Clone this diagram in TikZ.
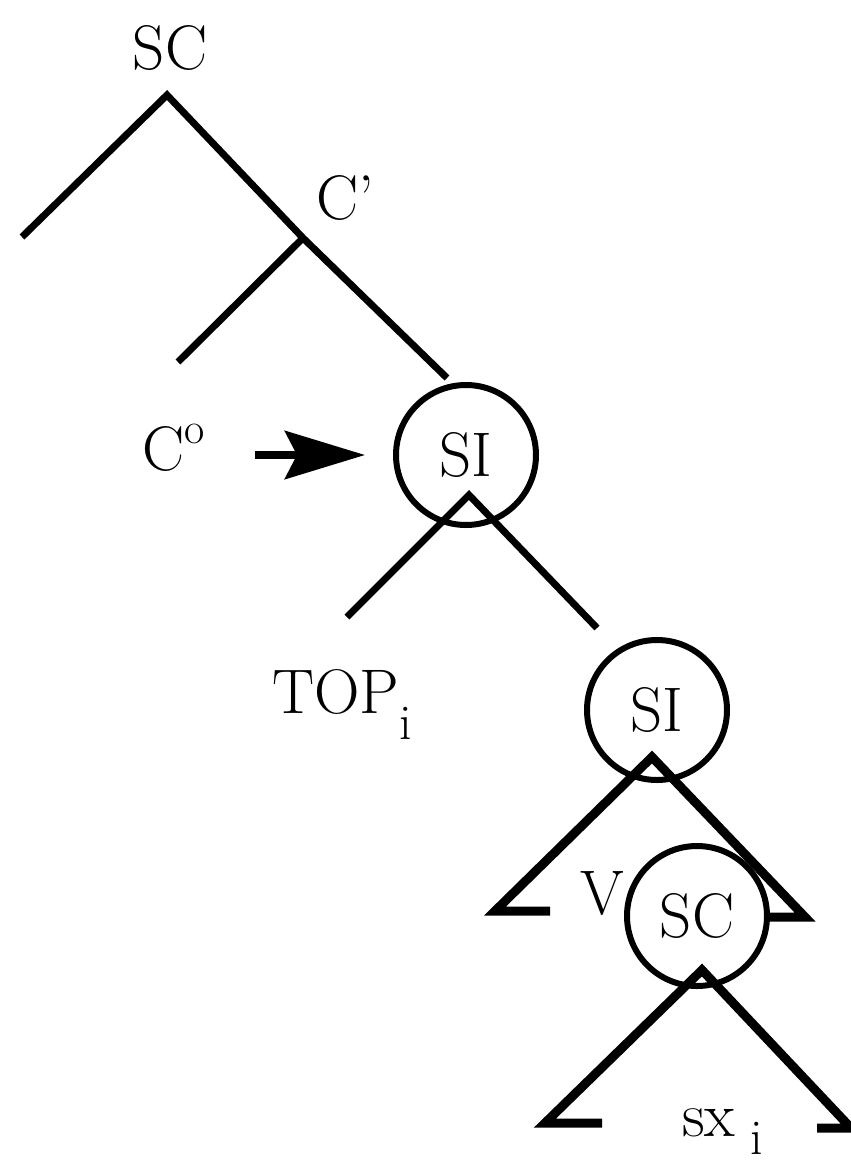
\documentclass[tikz,border=0pt]{standalone}
\usepackage{tikz}
\usetikzlibrary{arrows.meta}

\begin{document}
\begin{tikzpicture}[x=1pt, y=-1pt,
  font=\fontsize{63}{70}\selectfont,
  lbl/.style={inner sep=0pt},
  cat/.style={circle, draw, line width=6pt, minimum size=140pt, inner sep=0pt},
  br/.style={line width=7pt},
  brthick/.style={line width=9pt},
  arr/.style={line width=8pt, -{Stealth[length=80pt, width=48pt, inset=12pt]}}]
  \useasboundingbox (0,0) rectangle (851,1167);
  \node[lbl] (sc) at (170,48) {SC};
  \node[lbl] (cbar-lab) at (345,198) {C'};
  \node[lbl] (c0) at (174,448) {C\raisebox{0.42em}{\fontsize{44}{44}\selectfont o}};
  \node[cat] (si1) at (466,455) {SI};
  \node[lbl, anchor=base west] (top) at (272,713) {TOP\raisebox{-0.42em}{\fontsize{50}{50}\selectfont i}};
  \node[cat] (si2) at (657,710) {SI};
  \node[lbl] (v) at (602,893) {V};
  \node[cat] (sc2) at (697,916) {SC};
  \node[lbl, anchor=base west] (sx) at (682,1136) {sx\raisebox{-0.3em}{\fontsize{50}{50}\selectfont\ i}};
  \coordinate (sc-top) at (167,95);
  \coordinate (sc-l) at (22,237);
  \coordinate (cbar) at (303,238);
  \coordinate (cbar-l) at (178,362);
  \coordinate (si1-up) at (447,378);
  \coordinate (si1-apex) at (469,495);
  \coordinate (si1-l) at (347,617);
  \coordinate (si1-r) at (597,628);
  \coordinate (si2-apex) at (652,757);
  \coordinate (si2-l) at (495,911);
  \coordinate (si2-lf) at (550,911);
  \coordinate (si2-r) at (805,917);
  \coordinate (si2-rf) at (767,917);
  \coordinate (sc2-apex) at (702,970);
  \coordinate (sc2-l) at (545,1123);
  \coordinate (sc2-lf) at (602,1123);
  \coordinate (sc2-r) at (851,1128);
  \coordinate (sc2-rf) at (817,1128);
  \draw[br] (sc-l) -- (sc-top) -- (cbar) -- (si1-up);
  \draw[br] (cbar) -- (cbar-l);
  \draw[arr, shorten <=50pt, shorten >=28pt] (c0.east |- si1.west) -- (si1.west);
  \draw[br] (si1-l) -- (si1-apex) -- (si1-r);
  \draw[brthick] (si2-lf) -- (si2-l) -- (si2-apex) -- (si2-r) -- (si2-rf);
  \draw[brthick] (sc2-lf) -- (sc2-l) -- (sc2-apex) -- (sc2-r) -- (sc2-rf);
\end{tikzpicture}
\end{document}
